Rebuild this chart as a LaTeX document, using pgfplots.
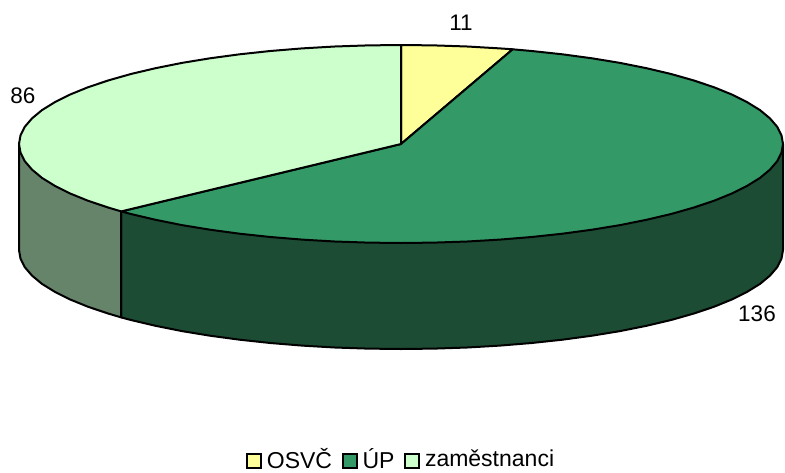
\documentclass[border=0pt]{standalone}
\usepackage{pgfplots}
\pgfplotsset{compat=1.18}
\usepackage{fontspec}
\setmainfont{Liberation Sans}
\definecolor{osvc}{HTML}{FFFF99}
\definecolor{up}{HTML}{339966}
\definecolor{zam}{HTML}{CCFFCC}
\definecolor{upside}{HTML}{1C4C33}
\definecolor{zamside}{HTML}{66846A}
\tikzset{slice/.style={draw=black, line width=2pt, line join=round}}
\begin{document}
\begin{tikzpicture}
\useasboundingbox (0,0) rectangle (785pt,472pt);
\begin{axis}[
  scale only axis, width=785pt, height=472pt,
  xmin=0, xmax=785, ymin=0, ymax=472, y dir=reverse,
  hide axis, clip=false,
  legend style={draw=none, fill=none, font=\fontsize{23}{24}\selectfont, at={(axis cs:401,459)}, anchor=center,
    legend columns=3, /tikz/every even column/.append style={column sep=7.5pt},
    /tikz/every odd column/.append style={column sep=3pt}, inner sep=0pt,
    nodes={inner sep=2pt}, legend cell align=left},
  legend image code/.code={\draw[#1, line width=2pt] (0pt,-9pt) rectangle (14pt,5pt);},
]
% side: UP
\addplot[slice, fill=upside, forget plot] coordinates {
(783,144)(783,250)(781.5,258.6)(777.2,267.2)(770,275.6)(760,283.9)(747.2,291.8)(731.8,299.5)(713.9,306.8)(693.6,313.6)(671.1,320)(646.5,325.8)(620.1,331.1)(592,335.7)(562.4,339.7)(531.7,343)(499.9,345.6)(467.3,347.5)(434.3,348.6)(401,349)(367.7,348.6)(334.7,347.5)(302.1,345.6)(270.3,343)(239.6,339.7)(210,335.7)(181.9,331.1)(155.5,325.8)(130.9,320)(121.2,317.4)(121.2,211.4)} -- cycle;
% side: zamestnanci
\addplot[slice, fill=zamside, forget plot] coordinates {
(121.2,211.4)(121.2,317.4)(108.4,313.6)(88.1,306.8)(70.2,299.5)(54.8,291.8)(42,283.9)(32,275.6)(24.8,267.2)(20.5,258.6)(19,250)(19,144)} -- cycle;
% top: OSVC
\addplot[slice, fill=osvc, forget plot] coordinates {
(401,144)(401,45)(434.3,45.4)(467.3,46.5)(499.9,48.4)(512.7,49.3)} -- cycle;
% top: UP
\addplot[slice, fill=up, forget plot] coordinates {
(401,144)(512.7,49.3)(531.7,51)(562.4,54.3)(592,58.3)(620.1,62.9)(646.5,68.2)(671.1,74)(693.6,80.4)(713.9,87.2)(731.8,94.5)(747.2,102.2)(760,110.1)(770,118.4)(777.2,126.8)(781.5,135.4)(783,144)(781.5,152.6)(777.2,161.2)(770,169.6)(760,177.9)(747.2,185.8)(731.8,193.5)(713.9,200.8)(693.6,207.6)(671.1,214)(646.5,219.8)(620.1,225.1)(592,229.7)(562.4,233.7)(531.7,237)(499.9,239.6)(467.3,241.5)(434.3,242.6)(401,243)(367.7,242.6)(334.7,241.5)(302.1,239.6)(270.3,237)(239.6,233.7)(210,229.7)(181.9,225.1)(155.5,219.8)(130.9,214)(121.2,211.4)} -- cycle;
% top: zamestnanci
\addplot[slice, fill=zam, forget plot] coordinates {
(401,144)(121.2,211.4)(108.4,207.6)(88.1,200.8)(70.2,193.5)(54.8,185.8)(42,177.9)(32,169.6)(24.8,161.2)(20.5,152.6)(19,144)(20.5,135.4)(24.8,126.8)(32,118.4)(42,110.1)(54.8,102.2)(70.2,94.5)(88.1,87.2)(108.4,80.4)(130.9,74)(155.5,68.2)(181.9,62.9)(210,58.3)(239.6,54.3)(270.3,51)(302.1,48.4)(334.7,46.5)(367.7,45.4)(401,45)} -- cycle;
\addlegendimage{fill=osvc, draw=black}
\addlegendentry{OSVČ}
\addlegendimage{fill=up, draw=black}
\addlegendentry{ÚP}
\addlegendimage{fill=zam, draw=black}
\addlegendentry{zaměstnanci}
\node[font=\fontsize{22.5}{24}\selectfont] at (axis cs:461,23) {11};
\node[font=\fontsize{22.5}{24}\selectfont] at (axis cs:757,314) {136};
\node[font=\fontsize{22.5}{24}\selectfont] at (axis cs:23,96) {86};
\end{axis}
\end{tikzpicture}
\end{document}
